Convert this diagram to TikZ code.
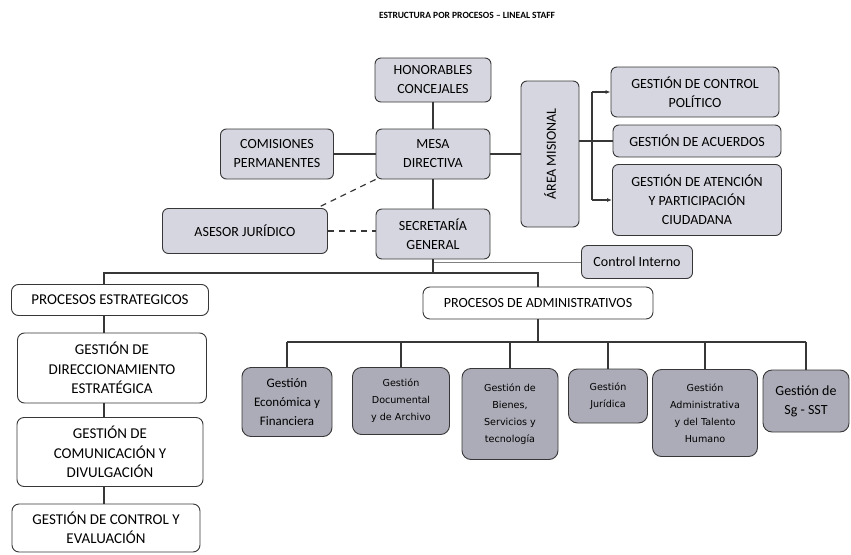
\documentclass[tikz,border=0pt]{standalone}
\usepackage{fontspec}
\usepackage{graphicx}
\setmainfont{Carlito}
\newfontfamily\wideface{DejaVu Sans}
\usetikzlibrary{arrows.meta}
\definecolor{boxgray}{RGB}{214,214,224}
\definecolor{admgray}{RGB}{172,172,184}
\definecolor{linegray}{RGB}{55,55,55}

\begin{document}
\begin{tikzpicture}[x=1pt,y=-1pt,
  box/.style={draw=linegray,line width=0.9pt,rounded corners=6pt,align=center,
              inner sep=0pt,fill=boxgray,font=\fontsize{14}{19}\selectfont},
  procbox/.style={box,fill=white,rounded corners=7pt},
  leftbox/.style={procbox,font=\fontsize{15}{19.5}\selectfont},
  admbox/.style={box,fill=admgray,rounded corners=9pt,font=\fontsize{13}{19}\selectfont},
  wideadm/.style={admbox,font=\wideface\fontsize{9.6}{17}\selectfont},
  link/.style={draw=linegray,line width=1.2pt}]
\useasboundingbox (0,0) rectangle (851,554);

\node[font=\bfseries\fontsize{9.5}{11}\selectfont] (title) at (467,15) {ESTRUCTURA POR PROCESOS -- LINEAL STAFF};

% direccion
\node[box,minimum width=116,minimum height=44] (hon) at (433,80) {HONORABLES\\CONCEJALES};
\node[box,minimum width=114,minimum height=50] (mesa) at (433,154) {MESA\\DIRECTIVA};
\node[box,minimum width=113,minimum height=50] (comis) at (277,154) {COMISIONES\\PERMANENTES};
\node[box,minimum width=165,minimum height=45] (asesor) at (245,231) {ASESOR JURÍDICO};
\node[box,minimum width=114,minimum height=50] (secre) at (433,234) {SECRETARÍA\\GENERAL};
\node[box,minimum width=111,minimum height=33] (ctrl) at (637,262) {Control Interno};

% area misional
\node[box,minimum width=58,minimum height=146] (area) at (550,154) {\rotatebox{90}{ÁREA MISIONAL}};
\node[box,minimum width=168,minimum height=50] (polit) at (695,92) {GESTIÓN DE CONTROL\\POLÍTICO};
\node[box,minimum width=168,minimum height=32] (acuer) at (697,141) {GESTIÓN DE ACUERDOS};
\node[box,minimum width=169,minimum height=71] (atenc) at (697,200) {GESTIÓN DE ATENCIÓN\\Y PARTICIPACIÓN\\CIUDADANA};

% procesos estrategicos
\node[leftbox,minimum width=197,minimum height=31] (pest) at (110,300) {PROCESOS ESTRATEGICOS};
\node[leftbox,minimum width=189,minimum height=70] (dir) at (112,368) {GESTIÓN DE\\DIRECCIONAMIENTO\\ESTRATÉGICA};
\node[leftbox,minimum width=186,minimum height=69] (com) at (110,452) {GESTIÓN DE\\COMUNICACIÓN Y\\DIVULGACIÓN};
\node[leftbox,minimum width=188,minimum height=48] (cev) at (106,528) {GESTIÓN DE CONTROL Y\\EVALUACIÓN};

% procesos administrativos
\node[procbox,minimum width=230,minimum height=32] (padm) at (538,303) {PROCESOS DE ADMINISTRATIVOS};
\node[admbox,minimum width=90,minimum height=69] (eco) at (287,402) {Gestión\\Económica y\\Financiera};
\node[wideadm,minimum width=97,minimum height=67] (doc) at (401,401) {Gestión\\Documental\\y de Archivo};
\node[wideadm,minimum width=96,minimum height=91] (bien) at (510,414) {Gestión de\\Bienes,\\Servicios y\\tecnología};
\node[wideadm,minimum width=79,minimum height=54] (jur) at (608,396) {Gestión\\Jurídica};
\node[wideadm,minimum width=105,minimum height=87] (adm) at (705,413) {Gestión\\Administrativa\\y del Talento\\Humano};
\node[admbox,minimum width=86,minimum height=62,font=\fontsize{14}{19}\selectfont] (sst) at (806,401) {Gestión de\\Sg - SST};

% conectores
\coordinate (spine) at (104,273);
\coordinate (bus) at (538,342);
\coordinate (trunk) at (592,141);

\draw[link] (hon) -- (mesa);
\draw[link] (comis) -- (mesa);
\draw[link] (mesa) -- (secre);
\draw[link] (mesa) -- (area);
\draw[link,dashed,dash pattern=on 6pt off 5pt] (mesa.south west) -- ([xshift=-11pt]asesor.north east);
\draw[link,dashed,dash pattern=on 6pt off 5pt] (asesor.east) -- (asesor.east -| secre.west);
\draw[draw=gray,line width=0.6pt] (ctrl.west) -- (ctrl.west -| secre.south);

\draw[link] (secre.south) -- (secre.south |- spine);
\draw[link] (spine |- pest.north) -- (spine) -| (padm.north);
\draw[link] (spine |- pest.south) -- (spine |- dir.north);
\draw[link] (spine |- dir.south) -- (spine |- com.north);
\draw[link] (spine |- com.south) -- (spine |- cev.north);

\draw[link] (padm.south) -- (bus);
\draw[link] (bus -| eco.north) -- (bus -| sst.north);
\foreach \n in {eco,doc,bien,jur,adm,sst}
  \draw[link] (bus -| \n.north) -- (\n.north);

\draw[link,line width=1.6pt] (area.east |- trunk) -- (acuer.west);
\draw[link,line width=1.6pt] (trunk |- polit) -- (trunk |- atenc);
\draw[link,line width=1.3pt,-{Latex[length=5pt,width=4pt]}] (trunk |- polit) -- (polit.west);
\draw[link,line width=1.3pt,-{Latex[length=5pt,width=4pt]}] (trunk |- atenc) -- (atenc.west);
\end{tikzpicture}
\end{document}
